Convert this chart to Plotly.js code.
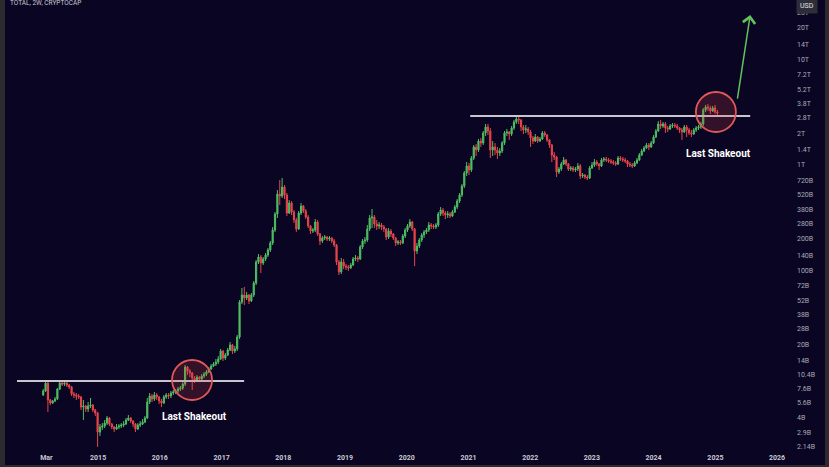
<!DOCTYPE html>
<html><head><meta charset="utf-8">
<script src="https://cdn.plot.ly/plotly-3.0.1.min.js"></script>
<style>
html,body{margin:0;padding:0;background:#2a2a2f;}
#wrap{position:relative;width:829px;height:467px;background:#2a2a2f;overflow:hidden;}
#chart{position:absolute;left:5px;top:0;width:820px;height:465px;}
</style></head><body><div id="wrap"><div id="chart"></div></div>
<script>
// TOTAL crypto market cap, 2-week candles, values in billions USD
const startDate = '2014-02-10';
const stepDays = 14;
const firstOpen = 6.61;
const closeB = [
7.21,8.57,5.93,5.55,5.80,6.06,7.53,8.57,8.38,8.57,
8.22,7.87,6.75,6.61,6.47,6.33,5.08,5.20,4.87,5.20,
5.31,4.76,4.46,2.94,3.28,3.36,3.58,4.00,3.51,3.28,
3.14,3.28,3.36,3.43,3.51,3.83,4.00,3.74,3.51,3.14,
3.43,3.51,3.66,4.00,5.67,6.47,6.06,6.61,6.33,5.80,
5.55,6.33,6.61,6.47,6.90,7.06,7.21,7.53,7.70,8.38,
12.16,11.14,10.67,9.55,9.15,9.76,9.35,9.98,10.42,10.90,
11.64,12.43,12.98,13.56,14.48,17.24,14.80,15.8,17.66,19.7,
17.24,18.05,23.45,50.3,58.6,54.9,58.6,51.4,58.6,76.2,
120.5,134.3,117.9,128.6,140.3,156.5,182.4,242.0,343.1,531,
508,618,519.5,350.8,436.4,358.5,301.0,247.3,350.8,408.6,
366.4,321.4,264.1,236.7,242.0,288.3,221.8,190.4,203.2,207.7,
198.9,203.2,190.4,174.5,120.5,96.9,120.5,110.4,108.0,105.6,
112.8,128.6,131.4,128.6,167.1,190.4,194.6,247.3,314.4,321.4,
275.8,264.1,269.9,258.4,247.3,207.7,236.7,221.8,203.2,182.4,
186.4,182.4,212.3,242.0,264.1,288.3,247.3,153.1,170.7,194.6,
217.0,231.8,242.0,269.9,264.1,258.4,269.9,343.1,374.4,350.8,
335.7,343.1,328.5,358.5,399.8,455.6,519.5,632,840,978,
897,1165,1482,1388,1689,1618,2013,2294,2101,1388,
1482,1388,1300,1357,1618,2013,2057,1968,2244,2559,
2732,2672,2294,2148,2196,2057,1804,1689,1844,1689,
1765,2013,1926,1727,1548,1244,1191,859,916,1022,
1115,1022,916,937,897,916,978,787,804,770,
753,937,1000,1068,1022,978,1115,1140,1115,1091,
1068,1045,1022,1165,1140,1115,1091,1022,1000,978,
1045,1115,1244,1357,1450,1548,1482,1618,1844,2101,
2449,2344,2449,2244,2196,2344,2396,2344,2244,2148,
2057,2294,2148,2013,1968,2148,2244,2294,2449,3325,
3551,3474,3252,3474,3184,3115
];
const highB = [
7.53,8.76,8.76,6.06,5.93,6.33,7.70,8.95,8.76,8.95,
8.76,8.38,8.04,7.06,6.90,6.75,6.47,5.93,5.31,5.67,
6.19,5.43,4.87,4.56,3.51,3.58,3.83,4.18,4.09,3.58,
3.36,3.51,3.51,3.58,3.74,4.00,4.27,4.09,3.83,3.58,
3.58,3.74,3.91,4.18,6.19,6.90,6.75,7.06,6.90,6.47,
6.06,6.61,6.90,6.90,7.21,7.37,7.53,7.87,8.04,8.76,
12.7,12.43,11.64,10.90,9.98,10.2,9.98,10.42,10.90,11.39,
12.16,12.98,13.56,14.48,15.46,18.05,17.66,16.51,18.45,21.04,
20.13,19.27,24.5,52.5,68.3,69.8,62.6,59.9,61.2,79.5,
125.8,143.4,140.3,134.3,146.6,163.4,190.4,258.4,358.5,579,
721,753,646,543,465.6,455.6,374.4,314.4,366.4,436.4,
417.6,382.7,335.7,269.9,252.8,307.6,301.0,226.8,212.3,217.0,
212.3,212.3,207.7,198.9,178.3,125.8,131.4,128.6,115.3,112.8,
117.9,134.3,140.3,137.3,174.5,198.9,207.7,269.9,335.7,382.7,
335.7,301.0,288.3,282.0,269.9,252.8,252.8,247.3,226.8,207.7,
194.6,194.6,221.8,252.8,275.8,307.6,294.6,252.8,182.4,203.2,
226.8,242.0,252.8,288.3,282.0,275.8,282.0,358.5,399.8,391.1,
366.4,366.4,358.5,374.4,417.6,476,543,660,877,1068,
1045,1217,1548,1582,1765,1804,2101,2449,2449,2244,
1689,1618,1482,1450,1689,2101,2196,2101,2344,2672,
2854,2917,2732,2396,2396,2294,2148,1884,1968,1884,
1844,2101,2101,1968,1765,1582,1329,1217,957,1068,
1191,1140,1045,978,978,957,1045,1022,840,822,
804,978,1068,1140,1115,1045,1165,1191,1191,1165,
1140,1115,1091,1217,1217,1191,1165,1115,1068,1045,
1091,1165,1300,1419,1515,1618,1618,1689,1926,2196,
2614,2672,2559,2559,2344,2449,2504,2504,2449,2294,
2244,2396,2396,2244,2148,2244,2344,2396,2559,3474,
3709,3791,3629,3629,3709,3325
];
const lowB = [
6.47,7.06,4.56,5.31,5.43,5.67,5.93,7.37,8.04,8.04,
7.87,7.53,6.47,6.19,5.93,6.06,4.76,3.83,4.56,4.56,
4.97,4.56,4.18,2.13,2.70,3.08,3.21,3.43,3.36,3.14,
2.94,3.08,3.14,3.21,3.28,3.43,3.74,3.58,3.28,2.94,
3.08,3.28,3.43,3.58,3.91,5.43,5.67,5.80,5.93,5.43,
5.08,5.43,6.06,6.06,6.19,6.61,6.75,6.90,7.21,7.37,
8.04,10.2,9.76,7.37,8.57,8.95,8.76,9.15,9.55,9.98,
10.67,11.39,12.16,12.43,12.98,14.17,13.86,14.17,15.46,17.24,
16.15,16.51,17.24,22.45,48.1,47.1,52.5,48.1,50.3,56.1,
72.9,115.3,94.8,112.8,123.1,134.3,149.8,174.5,231.8,314.4,
417.6,486.6,476,328.5,343.1,335.7,282.0,231.8,242.0,335.7,
350.8,307.6,252.8,221.8,226.8,231.8,212.3,174.5,182.4,194.6,
190.4,190.4,182.4,167.1,112.8,90.7,92.7,103.4,101.1,99.0,
103.4,110.4,123.1,120.5,125.8,159.9,178.3,186.4,236.7,252.8,
252.8,242.0,247.3,242.0,231.8,194.6,198.9,207.7,194.6,170.7,
174.5,174.5,178.3,203.2,231.8,252.8,236.7,110.4,143.4,163.4,
186.4,203.2,221.8,231.8,247.3,247.3,247.3,258.4,328.5,328.5,
307.6,314.4,314.4,321.4,350.8,382.7,436.4,497.3,605,787,
804,859,1115,1217,1329,1482,1548,1884,1926,1165,
1217,1244,1140,1217,1300,1548,1884,1727,1884,2148,
2449,2449,2101,1968,2013,1926,1482,1582,1653,1618,
1653,1727,1844,1653,1450,1068,1115,770,822,877,
1000,978,877,877,859,859,877,737,753,737,
721,737,916,957,978,897,957,1068,1068,1045,
1022,1000,978,1000,1091,1068,1045,957,957,937,
957,1022,1091,1217,1329,1419,1388,1450,1582,1804,
2057,2196,2244,2013,2057,2148,2244,2244,2148,2013,
1727,2013,1844,1926,1844,1926,2057,2148,2196,2344,
3184,3252,3047,3184,3047,2917
];
const yTickVals = [2.14,2.9,4,5.6,7.6,10.4,14,20,28,38,52,72,100,140,200,280,380,520,720,1000,1400,2000,2800,3800,5200,7200,10000,14000,20000,28000];
const yTickText = ['2.14B','2.9B','4B','5.6B','7.6B','10.4B','14B','20B','28B','38B','52B','72B','100B','140B','200B','280B','380B','520B','720B','1T','1.4T','2T','2.8T','3.8T','5.2T','7.2T','10T','14T','20T','28T'];
const xTickVals = ['2014-03-01','2015-01-01','2016-01-01','2017-01-01','2018-01-01','2019-01-01','2020-01-01','2021-01-01','2022-01-01','2023-01-01','2024-01-01','2025-01-01','2026-01-01'];
const xTickText = ['Mar','2015','2016','2017','2018','2019','2020','2021','2022','2023','2024','2025','2026'];
// breakout levels (billions) and the spans they are drawn over
const levelLow = 8.98;
const levelLowSpan = ['2013-09-08','2017-05-14'];
const levelHigh = 2910;
const levelHighSpan = ['2021-01-11','2025-07-26'];

// build candle arrays
const dates = [], openB = [];
const t0 = Date.parse(startDate + 'T00:00:00Z');
for (let i = 0; i < closeB.length; i++) {
  dates.push(new Date(t0 + i * stepDays * 86400000).toISOString().slice(0,10));
  openB.push(i === 0 ? firstOpen : closeB[i-1]);
}

const yMin = 1.905, yMax = 36640;
const lr0 = Math.log10(yMin), lr1 = Math.log10(yMax);
const toPaper = v => (Math.log10(v) - lr0) / (lr1 - lr0);

const up = '#4fbf63', down = '#e8464b';
const traces = [
  {type:'candlestick', x:dates, open:openB, high:highB, low:lowB, close:closeB,
   increasing:{line:{color:up,width:1}, fillcolor:up},
   decreasing:{line:{color:down,width:1}, fillcolor:down},
   whiskerwidth:0, hoverinfo:'skip', showlegend:false},
  {type:'scatter', mode:'lines', x:levelLowSpan, y:[levelLow, levelLow],
   line:{color:'#c6c6ce', width:2}, hoverinfo:'skip', showlegend:false},
  {type:'scatter', mode:'lines', x:levelHighSpan, y:[levelHigh, levelHigh],
   line:{color:'#c6c6ce', width:2}, hoverinfo:'skip', showlegend:false}
];

const circleStyle = {line:{color:'#e0585a', width:1.8}, fillcolor:'rgba(215,70,70,0.2)'};
const layout = {
  width:820, height:465,
  margin:{l:0, r:29, t:0, b:13},
  paper_bgcolor:'#0a0522', plot_bgcolor:'#0a0522',
  showlegend:false,
  font:{family:'Roboto, Liberation Sans, sans-serif', color:'#b8b8c4'},
  xaxis:{type:'date', range:['2013-06-29','2026-04-23'], rangeslider:{visible:false},
    tickmode:'array', tickvals:xTickVals, ticktext:xTickText,
    tickfont:{size:7, color:'#c9c9d2', weight:'bold'}, showgrid:false, zeroline:false, showline:false, ticks:''},
  yaxis:{type:'log', side:'right', range:[lr0, lr1], tickmode:'array', tickvals:yTickVals, ticktext:yTickText,
    tickfont:{size:7, color:'#a9a9b8'}, showgrid:false, zeroline:false, showline:false, ticks:''},
  shapes:[
    Object.assign({type:'circle', layer:'above', xref:'x', yref:'paper', xsizemode:'pixel', ysizemode:'pixel',
      xanchor:'2016-07-10', yanchor:toPaper(9.17), x0:-20, x1:20, y0:-20, y1:20}, circleStyle),
    Object.assign({type:'circle', layer:'above', xref:'x', yref:'paper', xsizemode:'pixel', ysizemode:'pixel',
      xanchor:'2025-01-04', yanchor:toPaper(3180), x0:-20, x1:20, y0:-20, y1:20}, circleStyle)
  ],
  annotations:[
    {xref:'paper', yref:'paper', x:0.004, y:toPaper(34000), xanchor:'left', yanchor:'middle', showarrow:false,
     text:'TOTAL, 2W, CRYPTOCAP', font:{size:6.5, color:'#c8c8d2'}},
    {xref:'paper', yref:'paper', x:1.0145, y:toPaper(32000), xanchor:'center', yanchor:'middle', showarrow:false,
     text:'USD', font:{size:7, color:'#e4e4ea'}, bgcolor:'#2e2e38', borderpad:3},
    {xref:'x', yref:'paper', x:'2016-07-22', y:toPaper(4.15), xanchor:'center', yanchor:'middle', showarrow:false,
     text:'<b>Last Shakeout</b>', font:{size:10, color:'#ffffff'}},
    {xref:'x', yref:'paper', x:'2025-01-18', y:toPaper(1290), xanchor:'center', yanchor:'middle', showarrow:false,
     text:'<b>Last Shakeout</b>', font:{size:10, color:'#ffffff'}},
    {xref:'x', yref:'paper', x:'2025-07-26', y:toPaper(26400), text:'', showarrow:true,
     ax:-13, ay:85, arrowcolor:'#62c25c', arrowwidth:1.5, arrowhead:4, arrowsize:1.6, standoff:0}
  ]
};
Plotly.newPlot('chart', traces, layout, {staticPlot:true, displayModeBar:false});
</script></body></html>
